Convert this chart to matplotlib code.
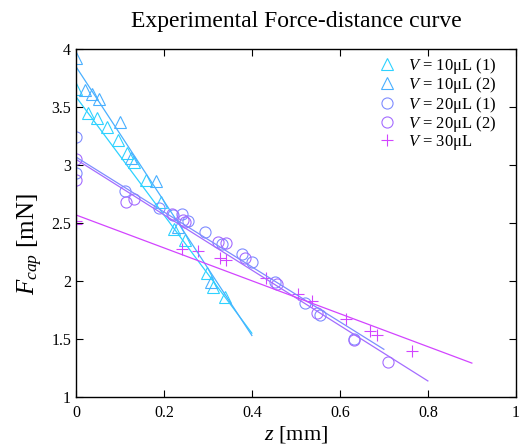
import numpy as np
import matplotlib.pyplot as plt

plt.rcParams['font.family'] = ['Liberation Serif', 'DejaVu Serif']
plt.rcParams['mathtext.fontset'] = 'custom'
plt.rcParams['mathtext.rm'] = 'Liberation Serif'
plt.rcParams['mathtext.it'] = 'Liberation Serif:italic'

# V = 10uL, two runs (triangles)
tri1_z = [0, 0.027, 0.049, 0.07, 0.095, 0.117, 0.133, 0.159, 0.193, 0.223, 0.248, 0.297, 0.312, 0.339]
tri1_f = [3.66, 3.45, 3.41, 3.33, 3.22, 3.10, 3.03, 2.87, 2.68, 2.45, 2.35, 2.07, 1.95, 1.86]
tri2_z = [0, 0.021, 0.036, 0.053, 0.10, 0.125, 0.182, 0.233, 0.308]
tri2_f = [3.92, 3.65, 3.61, 3.57, 3.37, 3.06, 2.86, 2.47, 1.99]

# V = 20uL, two runs (circles)
circ1_z = [0, 0, 0.112, 0.188, 0.221, 0.24, 0.255, 0.293, 0.331, 0.377, 0.401, 0.452, 0.52, 0.555, 0.632]
circ1_f = [3.24, 2.93, 2.78, 2.63, 2.57, 2.58, 2.52, 2.42, 2.32, 2.23, 2.16, 1.99, 1.81, 1.71, 1.50]
circ2_z = [0, 0, 0.114, 0.133, 0.218, 0.244, 0.248, 0.323, 0.342, 0.384, 0.456, 0.547, 0.632, 0.71]
circ2_f = [3.05, 2.87, 2.68, 2.71, 2.58, 2.53, 2.51, 2.34, 2.33, 2.20, 1.97, 1.72, 1.49, 1.30]

# V = 30uL (plus)
plus_z = [0, 0, 0.24, 0.278, 0.327, 0.342, 0.433, 0.505, 0.536, 0.615, 0.668, 0.685, 0.765]
plus_f = [2.52, 2.49, 2.28, 2.26, 2.20, 2.18, 2.03, 1.89, 1.83, 1.67, 1.57, 1.53, 1.40]

# linear fits: intercept, slope, z range end
fit_b = [3.59, 3.85, 3.07, 3.05, 2.57]
fit_a = [-5.1, -5.8, -2.37, -2.39, -1.42]
fit_end = [0.4, 0.4, 0.7, 0.8, 0.9]

labels = [r'$V$ = 10μL (1)', r'$V$ = 10μL (2)', r'$V$ = 20μL (1)', r'$V$ = 20μL (2)', r'$V$ = 30μL']
colors = ['#2ed2ff', '#4ab0ff', '#7f8cff', '#a46cff', '#d244ff']
markers = ['^', '^', 'o', 'o', '+']
series = [(tri1_z, tri1_f), (tri2_z, tri2_f), (circ1_z, circ1_f), (circ2_z, circ2_f), (plus_z, plus_f)]

fig = plt.figure(figsize=(5.2, 4.47), dpi=100)
ax = fig.add_axes([0.146, 0.112, 0.846, 0.778])

for (z, f), lab, c, m in zip(series, labels, colors, markers):
    ax.plot(z, f, linestyle='none', marker=m, markersize=9 if m == '^' else 8,
            markerfacecolor='none', markeredgecolor=c, markeredgewidth=0.8, label=lab)

for b, a, e, c in zip(fit_b, fit_a, fit_end, colors):
    zz = np.array([0, e])
    ax.plot(zz, b + a * zz, color=c, linewidth=0.9)

ax.set_xlim(0, 1)
ax.set_ylim(1, 4)
ax.set_xticks([0, 0.2, 0.4, 0.6, 0.8, 1])
ax.set_xticklabels(['0', '0.2', '0.4', '0.6', '0.8', '1'])
ax.set_yticks([1, 1.5, 2, 2.5, 3, 3.5, 4])
ax.set_yticklabels(['1', '1.5', '2', '2.5', '3', '3.5', '4'])
ax.tick_params(direction='in', top=True, right=True, labelsize=11.5, length=5, width=0.8)
ax.tick_params(axis='x', pad=6)
for s in ax.spines.values():
    s.set_linewidth(1.0)

ax.set_title('Experimental Force-distance curve', fontsize=17, pad=16)
ax.set_xlabel(r'$z$ [mm]', fontsize=16, labelpad=2)
ax.set_ylabel(r'$F_{cap}$ [mN]', fontsize=18)
ax.yaxis.set_label_coords(-0.07, 0.44)
ax.legend(loc='upper right', bbox_to_anchor=(0.97, 1.0), frameon=False, fontsize=12,
          handletextpad=0.5, labelspacing=-0.04, borderaxespad=0, handlelength=1.5)

fig.savefig('out.png', dpi=100)
